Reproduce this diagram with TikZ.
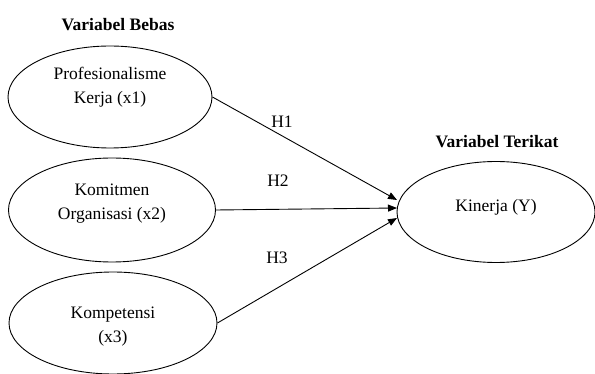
\documentclass[tikz,border=0pt]{standalone}
\usepackage{fontspec}
\setmainfont{LiberationSerif}[Extension=.ttf, UprightFont=*-Regular, BoldFont=*-Bold, ItalicFont=*-Italic, BoldItalicFont=*-BoldItalic]
\usetikzlibrary{shapes.geometric,arrows.meta}
\begin{document}
\begin{tikzpicture}[x=1pt,y=-1pt,
  var/.style={draw, ellipse, line width=0.9pt, inner sep=0pt},
  txt/.style={font=\fontsize{17.5}{24}\selectfont, align=center, inner sep=0pt},
  head/.style={font=\fontsize{17.5}{21}\selectfont\bfseries, inner sep=0pt},
  hyp/.style={font=\fontsize{17.5}{21}\selectfont, inner sep=0pt},
  conn/.style={line width=0.9pt, -{Triangle[length=9pt,width=7pt]}}]
\useasboundingbox (0,0) rectangle (595,374);
\clip (0,0) rectangle (595,374);
\node[var, minimum width=204pt, minimum height=102pt] (e1) at (110,97) {};
\node[var, minimum width=207pt, minimum height=104pt] (e2) at (112,210) {};
\node[var, minimum width=208pt, minimum height=102pt] (e3) at (113,323) {};
\node[var, minimum width=198pt, minimum height=101pt] (y) at (496,212) {};
\node[txt] (t1) at (110,87) {Profesionalisme\\Kerja (x1)};
\node[txt] (t2) at (112,204) {Komitmen\\Organisasi (x2)};
\node[txt] (t3) at (113,327) {Kompetensi\\(x3)};
\node[txt] (ty) at (496,207) {Kinerja (Y)};
\node[head] (hb) at (118,25) {Variabel Bebas};
\node[head] (ht) at (497,142) {Variabel Terikat};
\coordinate (p1) at (397,200);
\coordinate (p2) at (397,208);
\coordinate (p3) at (397,218);
\draw[conn] (e1.east) -- (p1);
\draw[conn] (e2.east) -- (p2);
\draw[conn] (e3.east) -- (p3);
\node[hyp] (h1) at (282,122) {H1};
\node[hyp] (h2) at (278,181) {H2};
\node[hyp] (h3) at (277,258) {H3};
\end{tikzpicture}
\end{document}
